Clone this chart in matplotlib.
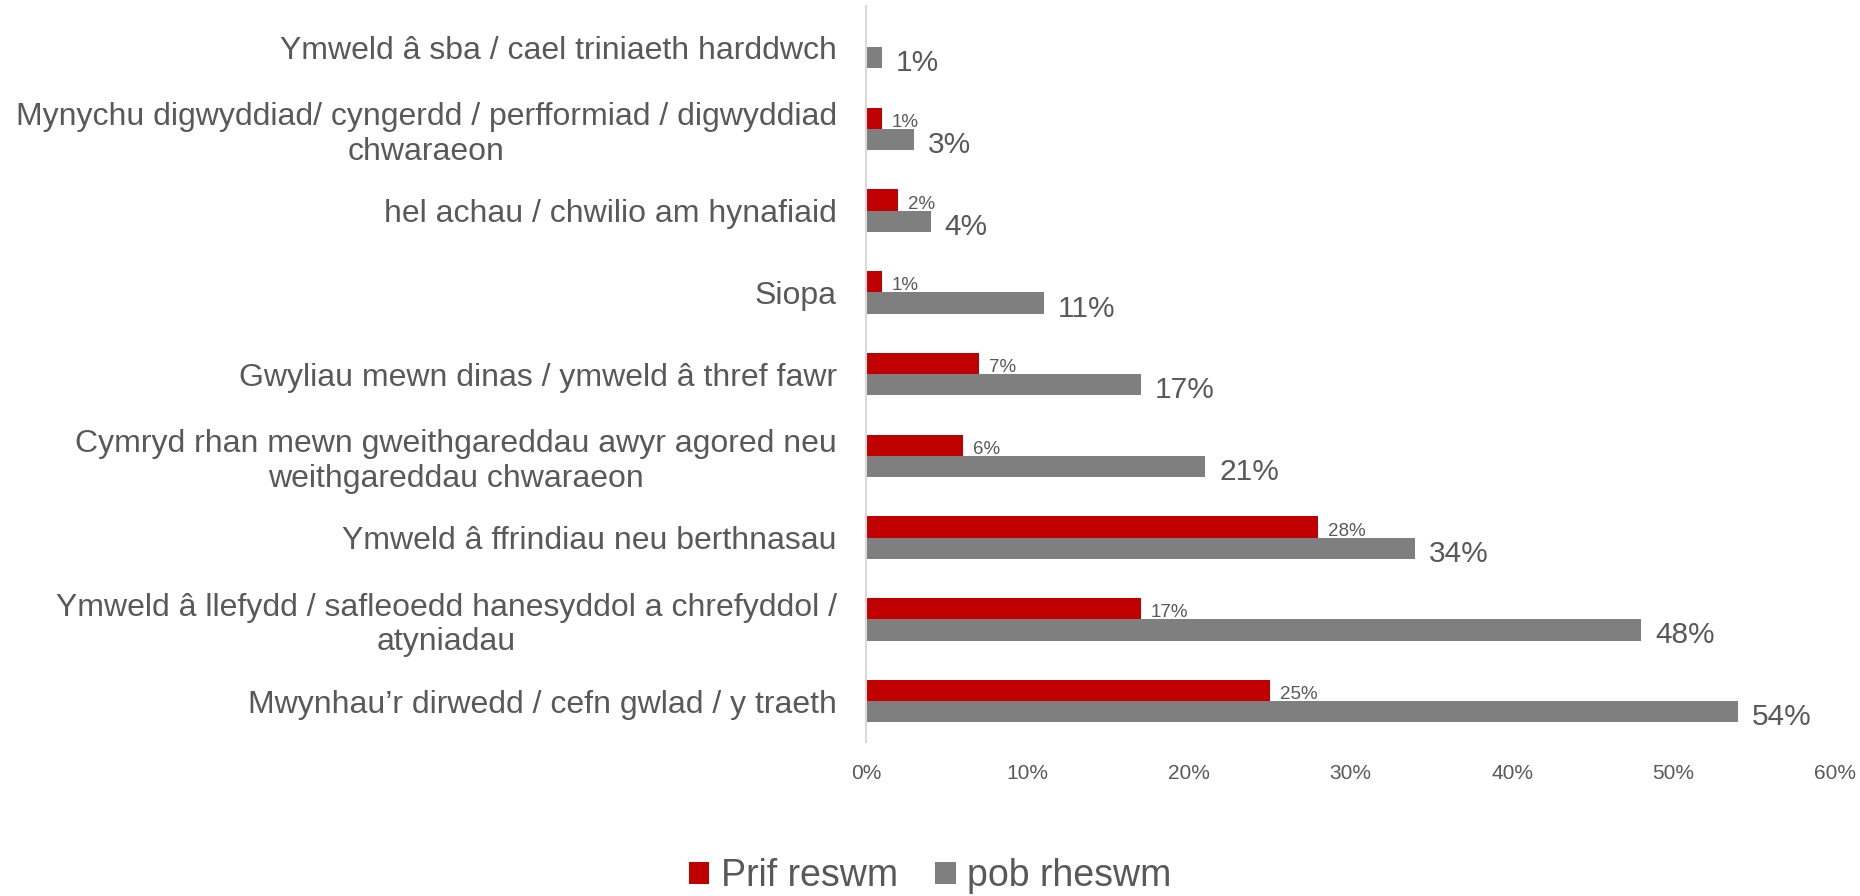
import matplotlib
matplotlib.use("Agg")
import matplotlib.pyplot as plt
import matplotlib.ticker as mtick
from matplotlib import font_manager
import numpy as np

# data, top to bottom as in the chart
categories = [
    "Ymweld â sba / cael triniaeth harddwch",
    "Mynychu digwyddiad/ cyngerdd / perfformiad / digwyddiad\nchwaraeon",
    "hel achau / chwilio am hynafiaid",
    "Siopa",
    "Gwyliau mewn dinas / ymweld â thref fawr",
    "Cymryd rhan mewn gweithgareddau awyr agored neu\nweithgareddau chwaraeon",
    "Ymweld â ffrindiau neu berthnasau",
    "Ymweld â llefydd / safleoedd hanesyddol a chrefyddol /\natyniadau",
    "Mwynhau\u2019r dirwedd / cefn gwlad / y traeth",
]
prif_reswm = [None, 1, 2, 1, 7, 6, 28, 17, 25]
pob_rheswm = [1, 3, 4, 11, 17, 21, 34, 48, 54]
series_names = ["Prif reswm", "pob rheswm"]
xticks = [0, 10, 20, 30, 40, 50, 60]

red = "#C00000"
grey = "#7F7F7F"
txt = "#595959"

names = {f.name for f in font_manager.fontManager.ttflist}
main_font = "Liberation Sans" if "Liberation Sans" in names else "DejaVu Sans"
small_font = "Liberation Sans Narrow" if "Liberation Sans Narrow" in names else main_font
plt.rcParams["font.family"] = main_font

fig = plt.figure(figsize=(18.6, 8.96), dpi=100)
ax = fig.add_axes([0.4656, 0.172, 0.521, 0.821])

n = len(categories)
y = np.arange(n)
h = 0.26
red_vals = [v if v is not None else 0 for v in prif_reswm]
ax.barh(y - h / 2, red_vals, height=h, color=red, label=series_names[0])
ax.barh(y + h / 2, pob_rheswm, height=h, color=grey, label=series_names[1])

for i, v in enumerate(prif_reswm):
    if v is None:
        continue
    ax.annotate(f"{v}%", (v, y[i] - h / 2), xytext=(7, -3), textcoords="offset points",
                ha="left", va="center", fontsize=13.5, color=txt, family=small_font)
for i, v in enumerate(pob_rheswm):
    ax.annotate(f"{v}%", (v, y[i] + h / 2), xytext=(10, -4), textcoords="offset points",
                ha="left", va="center", fontsize=21.5, color=txt)

ax.set_ylim(n - 0.5, -0.5)
ax.set_xlim(0, 60)
ax.set_yticks(y)
ax.set_yticklabels(categories, fontsize=23, color=txt, multialignment="center")
ax.set_xticks(xticks)
ax.xaxis.set_major_formatter(mtick.FuncFormatter(lambda v, p: f"{v:.0f}%"))
for lab in ax.get_xticklabels():
    lab.set_family(small_font)
    lab.set_fontsize(15)
    lab.set_color(txt)
ax.tick_params(axis="y", length=0, pad=21)
ax.tick_params(axis="x", length=0, pad=16)

for s in ["top", "right", "bottom"]:
    ax.spines[s].set_visible(False)
ax.spines["left"].set_color("#D9D9D9")
ax.spines["left"].set_linewidth(1.5)

fig.legend(loc="center", bbox_to_anchor=(0.5, 0.022), ncol=2, frameon=False,
           fontsize=27, labelcolor=txt, handlelength=0.55, handleheight=0.55,
           handletextpad=0.3, columnspacing=1.0)

fig.savefig("out.png", dpi=100, facecolor="white")
